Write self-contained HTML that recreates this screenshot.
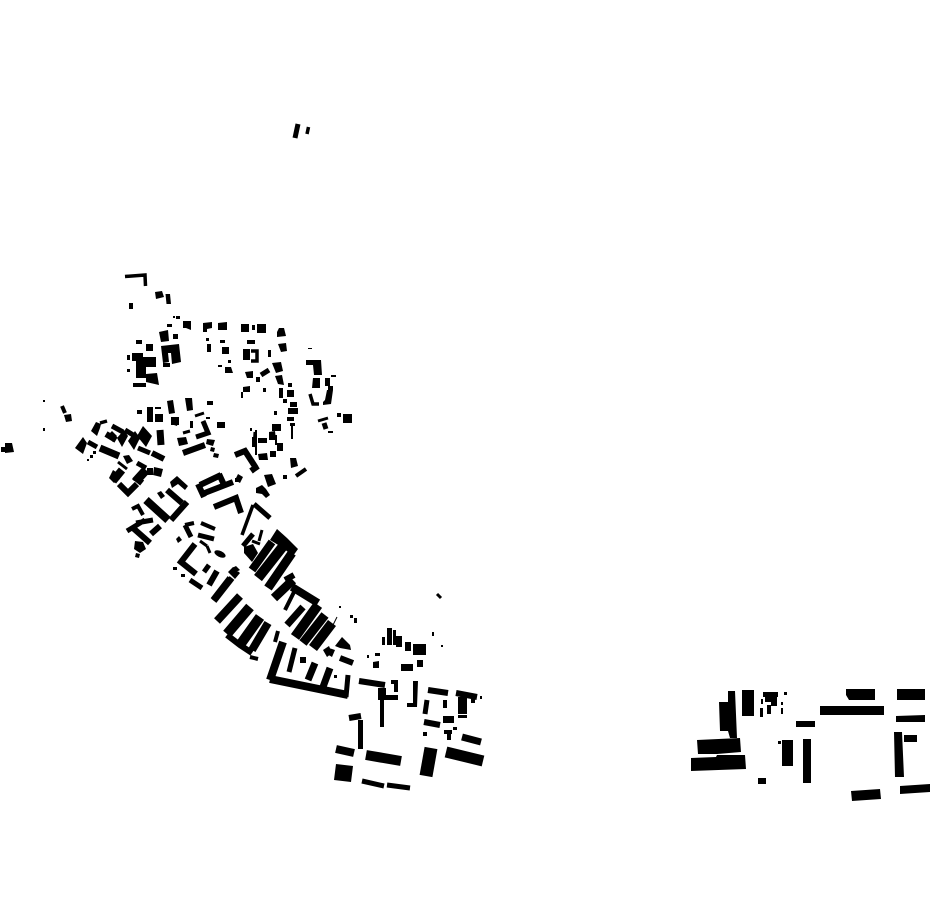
<!DOCTYPE html>
<html><head><meta charset="utf-8"><title>Figure-ground map</title>
<style>html,body{margin:0;padding:0;background:#fff}svg{display:block}</style></head>
<body>
<svg width="930" height="924" viewBox="0 0 930 924" xmlns="http://www.w3.org/2000/svg">
<rect width="930" height="924" fill="#fff"/>
<g fill="#000">
<path d="M155 292L162 291L164 297L156 299zM165.500 294L170 294L171 304L166.500 304zM129 303H133V309H129zM173 316H175V318H173zM176 316H180V319H176zM183 321H191V330L186 328H183zM167 324H172V327H167zM159 332L168 330L169 341L161 342zM173 334H178V339H173zM136 340H142V344H136zM146 344H153V351H146z
M161 346L179 344L181 362L172 364L171 353L168 353L169 362L163 363zM163 363H170V367H163z
M132 353H143V361H132zM143 357H156V367H143zM136 361H146V378H136zM146 374L157 373L159 385L146 382zM133 383H146V387H133zM127 355H130V360H127zM127 369H130V372H127z
M203 323L212 322V328L207 329V332H203zM218 323L227 322V330H218zM206 338H209V341H206zM207 344H211V352H207zM220 340H225V343H220zM222 347H229V354H222zM228 360H231V363H228zM218 365H222V367H218zM225 367H231L233 373H225z
M241 324H249V332H241zM252 325H255V330H252zM257 324H266V333H257zM277 332L279 328H284L286 336L277 337zM278 344L286 343L287 351L281 352zM247 340H255V344H247zM243 349H250V360H243zM268 350H271V357H268zM272 363L281 362L283 371L276 373zM275 376L282 375L284 385L278 384zM279 388H283V398H279zM288 383H292V387H288zM287 390H294V397H287zM283 399H287V403H283zM290 402H297V407H290zM288 408H298V414H288zM287 417H294V421H287zM290 423H295V426H290zM291 426H293V439H291z
M245 372L253 371V378H247zM256 377H260V382H256zM243 387L250 386V392H243zM241 392H243V398H241zM263 388H266V392H263z
M306 360H321L322 375H314L313 365H306zM308 348H312V349H308zM313 378H320V388H312zM325 378H330V386H325zM331 375H336V377H331zM328 386H333V390H328z
M327 390H333L331 404L323 405V402L325 400zM337 413H341V417H337zM343 414H352V423H343zM328 431H333V433H328zM274 411H277V415H274zM250 428H252V431H250z
M272 424H281V431H272zM269 432L275 431L276 440H269zM258 438H267V443H258zM255 430H257V455H255zM252 437H255V447H252zM258 454L267 453L268 460L259 460zM277 443H283V451H277zM270 451H276V457H270zM275 435H277V445H275z
M171 417H179V425H171zM137 410H142V414H137zM147 407H153V422H147zM155 414H163V422H155zM155 407H161V409H155zM167 401L173 400L175 413L169 414zM185 398H192L193 410L187 411zM207 401H213V405H207zM217 422H225V428H217zM190 421H193V428H190zM206 417H210V419H206z
M172 417L179 418L177 426L171 424z
M177 438L186 437L188 444L179 446zM207 439L215 440L213 446L206 444zM211 447L215 448L214 452L210 451zM214 453L219 454L218 458L213 457z
M43 400H45V402H43zM43 428H45V431H43zM5 443H12L14 452L5 453zM1 447H5V452H1z
M64 415L71 414L72 421L66 422z
M75 448L83 437L87 443L83 454zM123 456L129 455L133 461L127 464zM235 478H240V482H235zM238 474L243 477L240 483L235 480z
M91 431L96 422L101 424L100 428L97 436zM107 436L112 431L117 436L113 442zM117 438L124 430L128 436L122 447zM128 441L135 431L140 438L134 450zM137 436L143 426L152 436L146 447zM147 468H153V475H147zM154 467L163 469L161 477L153 475zM87 459H89V461H87zM90 455H93V458H90zM93 451H96V454H93zM113 470L119 474L120 479L114 483L109 478z
M170 482L177 476L188 486L185 490L178 484L172 488zM157 493L161 491L165 496L161 499zM135 541L143 542L146 549L140 553L134 549zM136 553L140 554L139 558L135 557z
M264 475L272 474L276 484L268 487zM283 475H287V479H283z
M256 488L262 485L266 489L270 495L266 498L262 494L256 493zM290 458H296L298 466L291 468zM176 539L179 536L182 540L178 543zM173 567H177V570H173zM181 574H185V577H181zM232 568L236 566L240 570L236 572zM228 572L233 567L240 573L235 579z
M339 606H341V608H339zM350 615H353V618H350zM354 618H357V623H354z
M270 540L277 529L287 538L298 549L293 556L283 548L275 543zM244 547L253 544L258 553L252 562L244 553z
M335 646L342 637L350 645L351 650L340 648zM329 648L335 650L332 657L327 654zM323 650L329 646L332 653L327 657z
M334 675H337V678H334zM300 657H306V663H300z
M382 637H385V645H382zM387 628H392V645H387zM393 630H396V645H393zM396 636H402V647H396zM405 642H411V651H405zM413 644H426V655H413z
M375 653H380V656H375zM367 655H369V658H367zM373 662L379 661V668H373zM401 664H413V671H401zM417 660H423V667H417zM432 632H434V636H432zM441 645H443V647H441z
M378 688H386V700H378zM380 700H384V727H380zM386 695H398V700H386zM391 680H398V684H391zM394 684H398V692H394zM413 681H418L417 707H407V703H413z
M443 700H447V708H443zM458 697H467V714H458zM458 715H467V718H458zM471 699H475V703H471zM480 696H482V699H480zM443 716H454V723H443zM453 727H457V730H453zM423 732H427V736H423zM444 730H452V734H444zM447 734H451V740H447z
M358 720H363V749H358zM336 764L353 766L351 782L334 780z
M728 691H735L737 738H730L728 731H720L719 702H728zM742 690H754V716H742zM697 740L740 738L741 752L717 754L698 754zM691 758L716 757L717 755L745 755L746 769L691 771zM758 778H766V784H758zM778 741H781V744H778zM782 740H793V766H782zM803 739H811V783H803zM796 721H815V727H796zM820 706H884V715H820zM846 689H875V700H849L846 695zM897 689H925V700H897zM896 716L925 715V722H896zM894 732H902L904 777H895zM904 735H917V742H904zM900 786L930 784V792L900 794zM851 791L880 789L881 799L852 801z
M763 692H778V697H763zM765 697H777V702H765zM761 699H763V704H761zM760 708H763V717H760zM767 705H771V714H767zM771 702H777V706H771zM784 692H787V695H784zM781 702H783V705H781zM781 708H783V714H781z"/>
<ellipse cx="220" cy="554" rx="6" ry="3" transform="rotate(25 220 554)"/>
</g>
<g fill="none" stroke="#000" stroke-linejoin="miter">
<path stroke-width="1" d="M332 627L337 617"/>
<path stroke-width="3" d="M195 416L204 413M183 433L190 431M118 462L127 469M133 480L138 475M262 530L259 541M252 541L260 544M200 541L207 546M207 546L210 553M437 594L441 598M318 421L328 418M254 447L255 432"/>
<path stroke-width="3.500" d="M125 276.500L145 275L145.500 286M242 535L253 505M308.500 127L307 134M100 423L107 421M251 351H257V361H251M310 394L313 404L319 404"/>
<path stroke-width="4" d="M62 406L65 413M185 525L194 523M201 523L215 529M285 610L295 590M250 657L258 659M275 642L278 631M296 476L306 469M132 509L138 506L143 515"/>
<path stroke-width="5" d="M298 124L295 138M88 442L97 447M112 426L123 432M125 430L138 438M138 448L150 453M254 504L270 518M185 525L191 537M198 535L214 539M190 580L202 588M204 572L209 565M137 463L146 468M243 546L253 534M289 672L295 648M348 675L346 697M362 781L384 786M387 785L410 788M427 700L425 714M261 375L269 370M203 421L208 433L196 437M324 423L326 429M127 531L145 520M136 523L153 520"/>
<path stroke-width="6" d="M183 453L205 445M106 434L116 440M152 453L164 459M119 484L128 493L137 484M200 485L221 475M202 494L233 482M198 484L204 497M219 474L225 487M209 447L209 447M214 507L236 498L241 513M235 455L245 451L256 468M251 471L258 466M195 544L181 562L196 574M209 585L217 571M214 601L232 578M213 600L230 578M359 681L385 685M428 690L448 693M456 693L477 697M424 722L440 725M349 718L361 716M340 658L353 663M285 580L294 575M187 502L171 520M133 528L150 543M151 534L160 526M167 490L182 503"/>
<path stroke-width="7" d="M100 448L119 456M160 430L161 445M287 625L303 607M462 737L481 742M308 680L315 663M323 687L330 668"/>
<path stroke-width="8" d="M113 481L122 470M336 749L354 753M217 621L240 596M252 650L268 623M270 679L348 695M252 570L272 542M146 500L168 520M270 680L283 642M292 587L318 603M141 478L137 483"/>
<path stroke-width="9" d="M136 481L146 470M268 588L292 553M274 598L293 580M303 643L325 615"/>
<path stroke-width="10" d="M366 755L401 761M258 578L284 545M227 634L250 607M240 645L260 617M295 637L318 605M313 648L332 623"/>
<path stroke-width="11" d="M446 752L483 761"/>
<path stroke-width="13" d="M431 748L426 776"/>
<path stroke-width="6" d="M227 635L240 645L252 653"/>
</g>
</svg>
</body></html>
